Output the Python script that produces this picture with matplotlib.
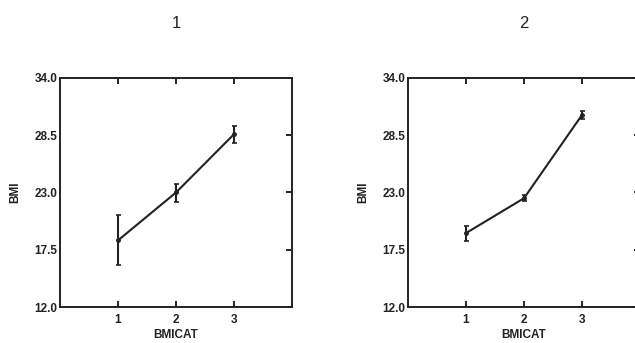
import matplotlib
matplotlib.use("Agg")
import matplotlib.pyplot as plt

categories = [1, 2, 3]
titles = ["1", "2"]
means_1 = [18.4, 23.0, 28.6]
err_lo_1 = [2.4, 0.9, 0.8]
err_hi_1 = [2.4, 0.8, 0.8]
means_2 = [19.1, 22.45, 30.45]
err_lo_2 = [0.8, 0.3, 0.4]
err_hi_2 = [0.7, 0.3, 0.4]
yticks = [12.0, 17.5, 23.0, 28.5, 34.0]

plt.rcParams['font.family'] = ['Liberation Sans', 'DejaVu Sans']

fig = plt.figure(figsize=(6.35, 3.43), dpi=100)
positions = [[60/635, 36/343, 232/635, 229/343], [408/635, 36/343, 232/635, 229/343]]
series = [(means_1, err_lo_1, err_hi_1), (means_2, err_lo_2, err_hi_2)]

for pos, (m, lo, hi), t in zip(positions, series, titles):
    ax = fig.add_axes(pos)
    ax.errorbar(categories, m, yerr=[lo, hi], color='#222222', lw=1.5,
                elinewidth=1.5, capsize=1.8, capthick=1.2, marker='o', ms=2.5)
    ax.set_xlim(0, 4)
    ax.set_ylim(12, 34)
    ax.set_xticks(categories)
    ax.set_yticks(yticks)
    ax.set_yticklabels([f"{v:.1f}" for v in yticks])
    ax.tick_params(axis='x', direction='in', top=True, bottom=True, length=4,
                   width=1.2, labelsize=8.5, pad=5)
    ax.tick_params(axis='y', direction='in', left=False, right=True, length=4,
                   width=1.2, labelsize=8.5, pad=2)
    for lab in ax.get_xticklabels() + ax.get_yticklabels():
        lab.set_fontweight('bold')
        lab.set_color('#222222')
    for s in ax.spines.values():
        s.set_linewidth(1.4)
        s.set_color('#222222')
    ax.set_xlabel("BMICAT", fontsize=8.5, fontweight='bold', color='#222222', labelpad=2)
    ax.set_ylabel("BMI", fontsize=8.5, fontweight='bold', color='#222222', labelpad=9)
    ax.set_title(t, fontsize=12, color='#222222', pad=36)

fig.savefig("out.png", dpi=100)
